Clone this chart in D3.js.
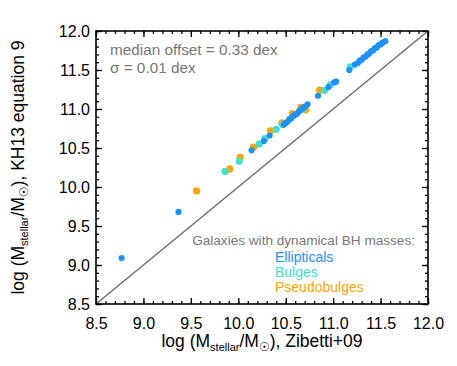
<!DOCTYPE html>
<html>
<head>
<meta charset="utf-8">
<script src="https://cdn.jsdelivr.net/npm/d3@7"></script>
<style>
  body { margin: 0; background: #fff; }
  text { font-family: "Liberation Sans", Arial, sans-serif; }
</style>
</head>
<body>
<script>
// values: [log M Zibetti+09, log M KH13 eq. 9]
var ellipticals = [
  [8.77, 9.09], [9.37, 9.68], [10.14, 10.47], [10.27, 10.59], [10.33, 10.66],
  [10.48, 10.80], [10.50, 10.82], [10.52, 10.84], [10.54, 10.87], [10.56, 10.88],
  [10.58, 10.91], [10.60, 10.93], [10.62, 10.94], [10.64, 10.97], [10.66, 10.99],
  [10.68, 11.01], [10.70, 11.03], [10.73, 11.06],
  [10.84, 11.17], [10.95, 11.28], [11.01, 11.34], [11.03, 11.35],
  [11.17, 11.50], [11.23, 11.57], [11.26, 11.59], [11.28, 11.62], [11.30, 11.63],
  [11.32, 11.66], [11.34, 11.67], [11.36, 11.70], [11.38, 11.71], [11.40, 11.74],
  [11.42, 11.75], [11.44, 11.78], [11.46, 11.79], [11.48, 11.82], [11.50, 11.83],
  [11.52, 11.85], [11.55, 11.87]
];
var bulges = [
  [9.86, 10.20], [10.01, 10.33], [10.22, 10.55], [10.28, 10.62], [10.40, 10.74],
  [10.47, 10.80], [10.68, 11.00], [10.91, 11.24], [10.97, 11.31], [11.18, 11.54]
];
var pseudobulges = [
  [9.56, 9.95], [9.91, 10.23], [10.02, 10.38], [10.16, 10.51], [10.34, 10.72],
  [10.46, 10.82], [10.57, 10.94], [10.66, 11.02], [10.71, 10.99], [10.86, 11.24]
];
var tickValues = [8.5, 9.0, 9.5, 10.0, 10.5, 11.0, 11.5, 12.0];
var legendLabels = ["Ellipticals", "Bulges", "Pseudobulges"];
var notes = ["median offset = 0.33 dex", "\u03c3 = 0.01 dex"];

var colors = {blue: "#1e90ff", teal: "#40e0d0", orange: "#ffa500"};

var margin = {top: 31, right: 29, bottom: 62, left: 96},
    width = 457 - margin.left - margin.right,
    height = 366 - margin.top - margin.bottom;

var svg = d3.select("body")
    .append("svg")
    .attr("width", 457)
    .attr("height", 366)
    .append("g")
    .attr("transform", "translate(" + margin.left + "," + margin.top + ")");

var x = d3.scaleLinear().domain([8.5, 12]).range([0, width]),
    y = d3.scaleLinear().domain([8.5, 12]).range([height, 0]);

var minor = d3.range(85, 121).map(function(d) { return d / 10; });

// inward ticks on all four sides
function ticks(axis, len, vals) {
  return axis.tickValues(vals).tickSize(-len).tickFormat("");
}
[[minor, 3], [tickValues, 6]].forEach(function(t) {
  svg.append("g").attr("class", "tk").attr("transform", "translate(0," + height + ")")
      .call(ticks(d3.axisBottom(x), t[1], t[0]));
  svg.append("g").attr("class", "tk")
      .call(ticks(d3.axisTop(x), t[1], t[0]));
  svg.append("g").attr("class", "tk")
      .call(ticks(d3.axisLeft(y), t[1], t[0]));
  svg.append("g").attr("class", "tk").attr("transform", "translate(" + width + ",0)")
      .call(ticks(d3.axisRight(y), t[1], t[0]));
});
svg.selectAll(".tk .domain").remove();
svg.selectAll(".tk line").attr("stroke", "#000").attr("stroke-width", 1.3);

// tick labels
svg.append("g")
    .attr("transform", "translate(0," + height + ")")
    .call(d3.axisBottom(x).tickValues(tickValues).tickSize(0).tickPadding(14)
      .tickFormat(d3.format(".1f")))
    .call(function(g) { g.select(".domain").remove(); })
    .selectAll("text").style("font-size", "16px").attr("fill", "#000");
svg.append("g")
    .call(d3.axisLeft(y).tickValues(tickValues).tickSize(0).tickPadding(6)
      .tickFormat(d3.format(".1f")))
    .call(function(g) { g.select(".domain").remove(); })
    .selectAll("text").style("font-size", "16px").attr("fill", "#000");

// one-to-one line
svg.append("line")
    .attr("x1", x(8.5)).attr("y1", y(8.5))
    .attr("x2", x(12)).attr("y2", y(12))
    .attr("stroke", "#6e6e6e")
    .attr("stroke-width", 1.5);

// points
function dots(data, color, r) {
  svg.append("g").selectAll("circle")
    .data(data)
    .enter().append("circle")
      .attr("cx", function(d) { return x(d[0]); })
      .attr("cy", function(d) { return y(d[1]); })
      .attr("r", r)
      .attr("fill", color);
}
dots(pseudobulges, colors.orange, 3.7);
dots(bulges, colors.teal, 3.6);
dots(ellipticals, colors.blue, 3.1);

// frame
svg.append("rect")
    .attr("width", width).attr("height", height)
    .attr("fill", "none").attr("stroke", "#000").attr("stroke-width", 1.6);

// notes
svg.selectAll(".note")
    .data(notes)
    .enter().append("text")
      .attr("class", "note")
      .attr("x", 14)
      .attr("y", function(d, i) { return 24 + i * 18; })
      .style("font-size", "15.3px")
      .attr("fill", "#777")
      .text(function(d) { return d; });

// legend
svg.append("text")
    .attr("x", 319).attr("y", 214)
    .attr("text-anchor", "end")
    .style("font-size", "13.6px")
    .attr("fill", "#777")
    .text("Galaxies with dynamical BH masses:");
var legendColors = [colors.blue, colors.teal, colors.orange];
svg.selectAll(".leg")
    .data(legendLabels)
    .enter().append("text")
      .attr("class", "leg")
      .attr("x", 179)
      .attr("y", function(d, i) { return 231 + i * 15; })
      .style("font-size", "14px")
      .attr("fill", function(d, i) { return legendColors[i]; })
      .text(function(d) { return d; });

// axis titles
function title(sel, tail) {
  sel.append("tspan").text("log (M");
  sel.append("tspan").attr("dy", 4).style("font-size", "11px").text("stellar");
  sel.append("tspan").attr("dy", -4).text("/M");
  sel.append("tspan").attr("dy", 4).style("font-size", "12px").attr("font-family", "DejaVu Sans").text("\u2609");
  sel.append("tspan").attr("dy", -4).text(tail);
}
svg.append("text")
    .attr("x", width / 2 + 0).attr("y", height + 43)
    .attr("text-anchor", "middle")
    .style("font-size", "17.5px")
    .call(title, "), Zibetti+09");
svg.append("text")
    .attr("transform", "translate(-72," + (height / 2) + ") rotate(-90)")
    .attr("text-anchor", "middle")
    .style("font-size", "17.5px")
    .call(title, "), KH13 equation 9");
</script>
</body>
</html>
